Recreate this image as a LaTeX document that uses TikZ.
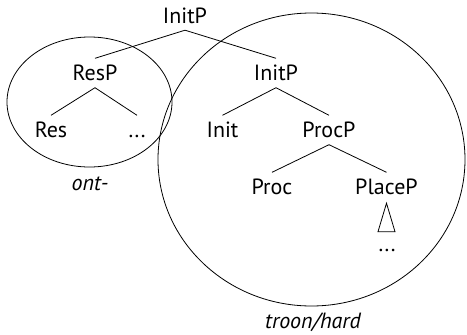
\documentclass[tikz,border=0pt]{standalone}
\usepackage{fontspec}
\setmainfont{PT Sans}
\usetikzlibrary{shapes.geometric}
\begin{document}
\begin{tikzpicture}[x=1pt,y=-1pt,
  lab/.style={font=\fontsize{22}{26}\selectfont, text height=15pt, text depth=0pt, inner xsep=2pt, inner ysep=7pt},
  lbl/.style={lab, inner ysep=1pt, font=\fontsize{22}{26}\selectfont\itshape},
  branch/.style={line width=0.8pt},
  ring/.style={draw, ellipse, inner sep=0pt, line width=0.8pt}]
\useasboundingbox (0,0) rectangle (467,335);
% tree nodes
\node[lab] (initp)  at (185,15.5) {InitP};
\node[lab] (resp)   at (95,73)    {ResP};
\node[lab] (res)    at (51,130)   {Res};
\node[lab] (rdots)  at (137,130)  {...};
\node[lab] (initp2) at (276,73)   {InitP};
\node[lab] (init)   at (222.5,130){Init};
\node[lab] (procp)  at (329,130)  {ProcP};
\node[lab] (proc)   at (272,187)  {Proc};
\node[lab] (placep) at (386.5,187){PlaceP};
\node[lab] (pdots)  at (387,243.5){...};
% labels
\node[lbl] (ont)   at (90,182.5)  {ont-};
\node[lbl] (troon) at (313,320.5) {troon/hard};
% rings
\node[ring, minimum width=165pt, minimum height=130pt] (small) at (89.5,102) {};
\node[ring, minimum width=307pt, minimum height=293pt] (big) at (311.5,159.5) {};
% edges
\draw[branch] (initp.south) -- (resp.north);
\draw[branch] (initp.south) -- (initp2.north);
\draw[branch] (resp.south) -- (res.north);
\draw[branch] (resp.south) -- (rdots.north);
\draw[branch] (initp2.south) -- (init.north);
\draw[branch] (initp2.south) -- (procp.north);
\draw[branch] (procp.south) -- (proc.north);
\draw[branch] (procp.south) -- (placep.north);
\draw[branch] (placep.south) ++(0,1.5) -- ++(-8.5,28.5) -- ++(17,0) -- cycle;
\end{tikzpicture}
\end{document}
